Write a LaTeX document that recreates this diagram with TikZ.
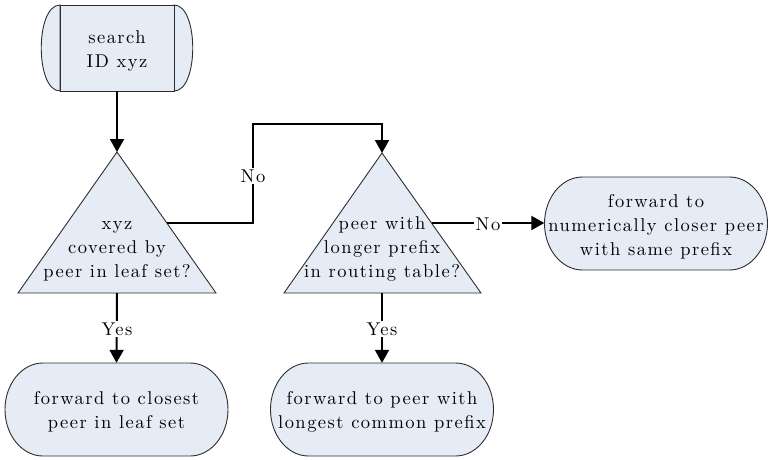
\documentclass[tikz,border=0pt]{standalone}
\usepackage{fontspec}
\usetikzlibrary{arrows.meta,calc}
\definecolor{boxfill}{RGB}{230,236,246}
\definecolor{boxline}{RGB}{45,45,45}
\newfontfamily\lmten{lmroman10-regular.otf}[LetterSpace=8]
\newcommand\txtfont{\lmten\fontsize{18.5}{24}\selectfont}
\tikzset{
  shapebox/.style={fill=boxfill,draw=boxline,line width=0.9pt},
  term/.style={minimum width=223pt,minimum height=93pt,inner sep=0pt},
  txt/.style={align=center,font=\txtfont,inner sep=0pt},
  conn/.style={line width=2pt,-{Triangle[length=13pt,width=14pt]}},
  lbl/.style={fill=white,inner sep=1.5pt,font=\txtfont}
}
\newcommand\stadiumat[1]{%
  \path[shapebox] ($(#1)+(-73.5,-46.5)$) -- ($(#1)+(73.5,-46.5)$)
    arc[start angle=-90,end angle=90,x radius=38,y radius=46.5]
    -- ($(#1)+(-73.5,46.5)$)
    arc[start angle=90,end angle=270,x radius=38,y radius=46.5] -- cycle;}
\begin{document}
\begin{tikzpicture}[x=1pt,y=-1pt]
\useasboundingbox (0,0) rectangle (770,459);
% start
\path[shapebox] (60,5) .. controls (35,5) and (35,91) .. (60,91) -- cycle;
\path[shapebox] (174,5) .. controls (199,5) and (199,91) .. (174,91) -- cycle;
\node[shapebox,minimum width=114pt,minimum height=86pt,inner sep=0pt] (start) at (117,48) {};
\node[txt] (startt) at (117,51) {search\\ID xyz};
% triangle 1
\coordinate (t1a) at (117,152);
\coordinate (t1l) at (18,293);
\coordinate (t1r) at (216,293);
\coordinate (t1b) at (117,293);
\path[shapebox] (t1a) -- (t1r) -- (t1l) -- cycle;
\node[txt] (t1) at (117,251) {xyz\\covered by\\peer in leaf set?};
\coordinate (t1e) at ($(t1a)!0.5!(t1r)$);
% triangle 2
\coordinate (t2a) at (382,153);
\coordinate (t2l) at (284,293);
\coordinate (t2r) at (481,293);
\coordinate (t2b) at (382,293);
\path[shapebox] (t2a) -- (t2r) -- (t2l) -- cycle;
\node[txt] (t2) at (382,249) {peer with\\longer prefix\\in routing table?};
\coordinate (t2e) at ($(t2a)!0.5!(t2r)$);
% terminals
\stadiumat{656,223.5}
\node[term] (n3) at (656,223.5) {};
\node[txt] (n3t) at (656,227) {forward to\\numerically closer peer\\with same prefix};
\stadiumat{116.5,409.5}
\node[term] (n4) at (116.5,409.5) {};
\node[txt] (n4t) at (116.5,412) {forward to closest\\peer in leaf set};
\stadiumat{382,409.5}
\node[term] (n5) at (382,409.5) {};
\node[txt] (n5t) at (382,412) {forward to peer with\\longest common prefix};
% connectors
\coordinate (k1) at (253,124);
\draw[conn] (start.south) -- (t1a);
\draw[conn] (t1e) -| (k1) -| (t2a);
\draw[conn] (t2e) -- (t2e -| n3.west);
\draw[conn] (t1b) -- (n4.north);
\draw[conn] (t2b) -- (n5.north);
% labels
\node[lbl] (no1) at (253,176) {No};
\node[lbl] (no2) at (488,224) {No};
\node[lbl] (yes1) at (117,329) {Yes};
\node[lbl] (yes2) at (382,329) {Yes};
\end{tikzpicture}
\end{document}
